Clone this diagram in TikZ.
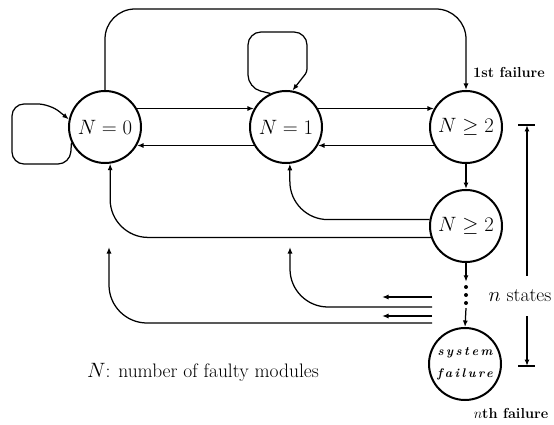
\documentclass[tikz,border=0pt]{standalone}
\usepackage{fontspec}
\newfontfamily\sysfont{Latin Modern Roman}[LetterSpace=20]
\usetikzlibrary{arrows.meta,calc}

\tikzset{
  conn/.style={line width=1.25pt, -{Latex[length=6.5pt,width=5pt]}},
  plain/.style={line width=1.25pt},
  state/.style={circle, draw, line width=2pt, minimum size=72pt, inner sep=0pt,
    font=\fontsize{21}{24}\selectfont},
  smalllabel/.style={font=\fontsize{14.5}{17}\selectfont\bfseries, inner sep=0pt},
  biglabel/.style={font=\fontsize{19.5}{22}\selectfont, inner sep=0pt},
}

\begin{document}
\begin{tikzpicture}[x=1pt, y=-1pt]
  \useasboundingbox (0,0) rectangle (554,425);

  % states
  \node[state] (n0)  at (105,127) {$N=0$};
  \node[state] (n1)  at (286,127) {$N=1$};
  \node[state] (n2a) at (466,127) {$N\geq 2$};
  \node[state] (n2b) at (466,226) {$N\geq 2$};
  \node[state, align=center,
        font={\sysfont\fontsize{12.5}{22}\selectfont\bfseries\itshape}]
    (sf) at (465,364) {system\\failure};

  % intermediate states shown as dots
  \node[inner sep=0pt, minimum width=6pt, minimum height=26pt] (dots) at (466,295) {};
  \foreach \dy in {-8,0,8}
    \fill ($(dots.center)+(0,\dy)$) circle (2pt);

  % self loops
  \draw[conn, rounded corners=12pt] (n0.205) -- (70,164) -- (12,164) -- (12,104) -- (50,104) [rounded corners=3pt] -- (n0.168);
  \draw[conn, rounded corners=13pt] (n1.115) -- (248,88) -- (248,32) -- (307,32) [rounded corners=3pt] -- (307,72) -- (n1.80);

  % transitions between neighbouring states
  \draw[conn] (n0.30) -- (n1.150);
  \draw[conn] (n1.210) -- (n0.330);
  \draw[conn] (n1.30) -- (n2a.150);
  \draw[conn] (n2a.210) -- (n1.330);

  % first failure, straight from N=0
  \coordinate (topmid) at (286,9);
  \draw[conn, rounded corners=30pt] (n0.north) |- (topmid) -| (n2a.north);

  % chain down to system failure
  \draw[conn] (n2a.south) -- (n2b.north);
  \draw[conn] (n2b.south) -- (dots.north);
  \draw[conn] (dots.south) -- (sf.north);

  % repairs back from the lower states
  \draw[conn, rounded corners=38pt] (n2b.170) -| (n1.-84);
  \draw[conn, rounded corners=38pt] (n2b.198) -| (n0.-82);

  \coordinate (r1) at (432,307);
  \coordinate (u1) at (290,247);
  \coordinate (r0) at (432,323);
  \coordinate (u0) at (109,247);
  \draw[conn, rounded corners=38pt] (r1) -| (u1);
  \draw[conn, rounded corners=38pt] (r0) -| (u0);

  \coordinate (s1a) at (432,297);
  \coordinate (s1b) at (382,297);
  \coordinate (s2a) at (432,316);
  \coordinate (s2b) at (382,316);
  \draw[conn] (s1a) -- (s1b);
  \draw[conn] (s2a) -- (s2b);

  % span of the n states
  \node[biglabel, minimum height=40pt] (ns) at (520,296) {$n$ states};
  \coordinate (bt) at (527,125);
  \coordinate (bb) at (527,366);
  \draw[conn] (bt |- ns.north) -- (bt);
  \draw[conn] (bt |- ns.south) -- (bb);
  \draw[plain] ($(bt)+(-9,0)$) -- ($(bt)+(8,0)$);
  \draw[plain] ($(bb)+(-9,0)$) -- ($(bb)+(8,0)$);

  % labels
  \node[smalllabel] (first) at (509,72) {1st failure};
  \node[smalllabel] (last) at (511,413) {$n$th failure};
  \node[biglabel] (legend) at (203,372) {$N$: number of faulty modules};
\end{tikzpicture}
\end{document}
